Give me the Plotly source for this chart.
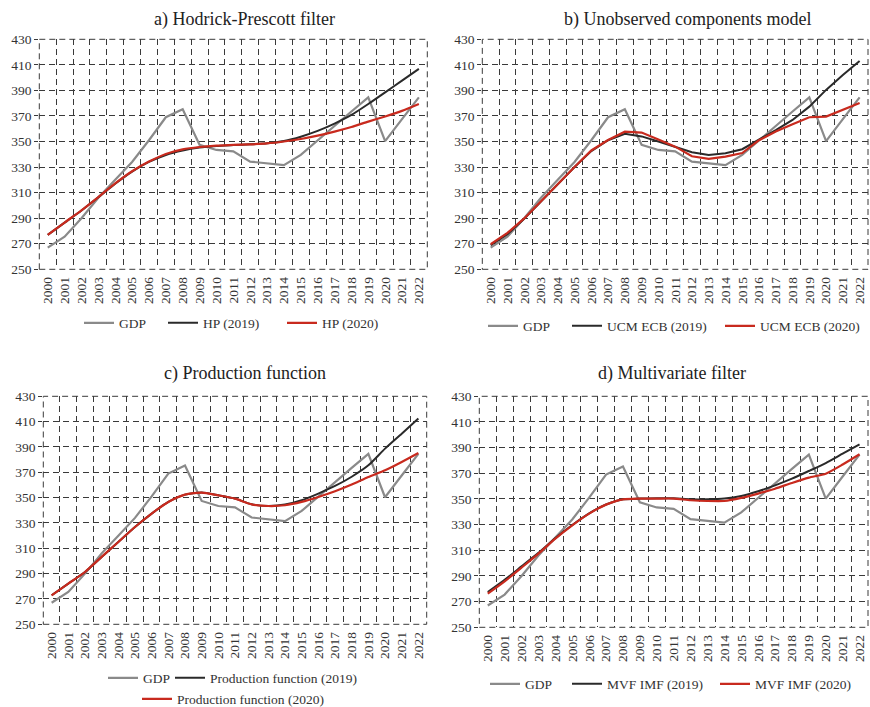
import plotly.graph_objects as go

years = [str(y) for y in range(2000, 2023)]

gdp = [267, 275.5, 290, 306, 320, 334, 351, 369, 375.3, 347.4, 343.4, 342.3, 334.3, 332.8, 331.5,
       339.5, 351, 362.5, 373.5, 384.6, 350.3, 367.5, 384.6]

hp_2019 = [276.9, 286.5, 296, 306.4, 317, 326.5, 334, 339.5, 343, 345.3, 346.5, 347.2, 347.8, 348.6,
           350.4, 353.8, 358.3, 364, 370.8, 379.4, 388.5, 397.7, 406.8]
hp_2020 = [277, 286.6, 296.1, 306.5, 317.2, 326.7, 334.3, 340.3, 343.9, 345.7, 346.8, 347.3, 347.8,
           348.5, 350, 352, 354.6, 357.8, 361.4, 365.6, 369.6, 374, 379.4]

ucm_2019 = [268.8, 277.5, 289.5, 303, 317, 330, 342.5, 351, 356, 354, 350, 346, 341.6, 339.5, 340.8,
            344, 351.2, 359, 366.9, 377.3, 390.4, 402.1, 413]
ucm_2020 = [269.6, 278.5, 289.8, 303.2, 317.2, 330, 343, 351.2, 357.7, 357, 351.5, 346, 338.5, 336.4,
            338.2, 341, 351, 357.8, 363.5, 369, 369.5, 374.7, 380.2]

pf_2019 = [272.9, 282.1, 291.3, 303.2, 315, 326.8, 337.4, 346.6, 352.4, 354, 351.8, 349.2, 344.7, 343.4,
           344.5, 347.9, 353.2, 359.2, 366.5, 375.5, 388.7, 400.5, 412.4]
pf_2020 = [272.9, 282.1, 291.3, 303.2, 315, 326.8, 337.4, 346.6, 352.4, 354, 351.8, 349.2, 344.7, 343.4,
           344, 346.6, 350.5, 355, 360.3, 366.3, 371.6, 378.2, 385.3]

mvf_2019 = [277.5, 287, 297.5, 308, 319.5, 329.7, 338.8, 345.7, 349.7, 350.3, 350.5, 350.5, 349.7, 349.7,
            350.3, 352.3, 356, 360.6, 365.8, 371.8, 378, 385.3, 392.6]
mvf_2020 = [276.2, 285.8, 296.5, 307.4, 319.1, 329.5, 338.6, 345.6, 349.7, 350.3, 350.3, 350.3, 349,
            348.4, 348.4, 350.8, 354.2, 358, 362.5, 366.6, 369.7, 376.8, 384.8]

titles = ["a) Hodrick-Prescott filter", "b) Unobserved components model",
          "c) Production function", "d) Multivariate filter"]
names_2019 = ["HP (2019)", "UCM ECB (2019)", "Production function (2019)", "MVF IMF (2019)"]
names_2020 = ["HP (2020)", "UCM ECB (2020)", "Production function (2020)", "MVF IMF (2020)"]
y_ticks = list(range(250, 431, 20))

FONT = "Liberation Serif, Times New Roman, serif"
GRAY = "#8a8a8a"
BLACK = "#2a2a2a"
RED = "#c82a1e"
GRID = "#3a3a3a"
DASH = "6px,4px"

W, H = 870, 707
# pixel boxes: (left, right, top, bottom)
boxes = [(39.3, 427.3, 39.3, 269.3),
         (482.3, 868, 39.3, 269.3),
         (43.3, 426.7, 396.3, 624.3),
         (479.3, 868, 396.3, 627.3)]
title_pos = [(244, 19), (687, 19), (245, 373), (672, 373)]
# legend text start x and centre y for GDP, 2019, 2020 entries of each panel
legend_pos = [[(119, 323), (203, 323), (322, 323)],
              [(523, 326), (607, 326), (760, 326)],
              [(143, 678), (210, 678), (177, 699)],
              [(525, 684), (607, 684), (755, 684)]]

series_2019 = [hp_2019, ucm_2019, pf_2019, mvf_2019]
series_2020 = [hp_2020, ucm_2020, pf_2020, mvf_2020]
shapes_line = ["spline", "linear", "spline", "spline"]

fig = go.Figure()
layout = dict(
    width=W, height=H,
    margin=dict(l=0, r=0, t=0, b=0, pad=0, autoexpand=False),
    paper_bgcolor="white", plot_bgcolor="white",
    font=dict(family=FONT, size=13.5, color="#333"),
    showlegend=True,
)
leg_common = dict(orientation="h", xanchor="left", yanchor="middle", bgcolor="rgba(0,0,0,0)",
                  font=dict(family=FONT, size=13.5, color="#333"), borderwidth=0)

k = 0
for i in range(4):
    sfx = "" if i == 0 else str(i + 1)
    xa, ya = "x" + sfx, "y" + sfx
    specs = [("GDP", gdp, GRAY, 2.2, "linear"),
             (names_2019[i], series_2019[i], BLACK, 2, shapes_line[i]),
             (names_2020[i], series_2020[i], RED, 2.2, shapes_line[i])]
    for j, (nm, vals, col, lw, shp) in enumerate(specs):
        k += 1
        leg = "legend" if k == 1 else "legend%d" % k
        fig.add_trace(go.Scatter(x=years, y=vals, name=nm, mode="lines",
                                 line=dict(color=col, width=lw, shape=shp, smoothing=0.6),
                                 xaxis=xa, yaxis=ya, legend=leg))
        px, py = legend_pos[i][j]
        layout[leg] = dict(leg_common, x=(px - 40) / W, y=1 - py / H)

annotations = []
shapes = []
for i, (l, r, t, b) in enumerate(boxes):
    sfx = "" if i == 0 else str(i + 1)
    layout["xaxis" + sfx] = dict(
        domain=[l / W, r / W], anchor="y" + sfx, type="category",
        range=[-0.5, len(years) - 0.5],
        tickson="boundaries", showgrid=True, gridcolor=GRID, gridwidth=1,
        griddash=DASH, tickangle=-90, ticks="", showline=False, zeroline=False,
        tickfont=dict(family=FONT, size=13.5, color="#333"), ticklabelstandoff=4,
        fixedrange=True,
    )
    layout["yaxis" + sfx] = dict(
        domain=[1 - b / H, 1 - t / H], anchor="x" + sfx, range=[250, 430],
        tickvals=y_ticks, showgrid=True, gridcolor=GRID, gridwidth=1, griddash=DASH,
        ticks="outside", ticklen=4, tickcolor=GRID, showline=False, zeroline=False,
        tickfont=dict(family=FONT, size=13.5, color="#333"), fixedrange=True,
    )
    tx, ty = title_pos[i]
    annotations.append(dict(text=titles[i], x=tx / W, y=1 - ty / H, xref="paper", yref="paper",
                            xanchor="center", yanchor="middle", showarrow=False,
                            font=dict(family=FONT, size=18, color="#222")))
    shapes.append(dict(type="rect", xref="x%s domain" % sfx, yref="y%s domain" % sfx,
                       x0=0, x1=1, y0=0, y1=1, line=dict(color=GRID, width=1, dash=DASH),
                       layer="below"))

layout["annotations"] = annotations
layout["shapes"] = shapes

fig.update_layout(**layout)
fig.write_html("out.html", config={"displayModeBar": False},
               post_script="document.body.style.margin='0px';document.body.style.overflow='hidden';")
